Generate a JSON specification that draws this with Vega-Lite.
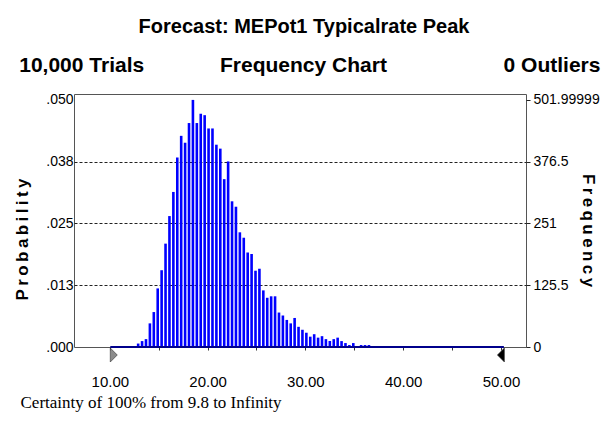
{
  "$schema": "https://vega.github.io/schema/vega-lite/v6.json",
  "width": 452,
  "height": 253,
  "autosize": {"type": "none"},
  "padding": {"left": 74, "top": 94, "right": 82, "bottom": 76},
  "background": "white",
  "title": {
    "text": "Forecast: MEPot1 Typicalrate Peak",
    "subtitle": "\u200d\u00a0\u00a010,000 Trials\u00a0\u00a0\u00a0\u00a0\u00a0\u00a0\u00a0\u00a0\u00a0\u00a0\u00a0\u00a0\u00a0Frequency Chart\u00a0\u00a0\u00a0\u00a0\u00a0\u00a0\u00a0\u00a0\u00a0\u00a0\u00a0\u00a0\u00a0\u00a0\u00a0\u00a0\u00a0\u00a0\u00a0\u00a00 Outliers",
    "anchor": "middle",
    "frame": "group",
    "dx": 4,
    "offset": 17,
    "font": "Liberation Sans",
    "fontSize": 20,
    "fontWeight": "bold",
    "color": "black",
    "subtitleFont": "Liberation Sans",
    "subtitleFontSize": 21,
    "subtitleFontWeight": "bold",
    "subtitleColor": "black",
    "subtitlePadding": 18
  },
  "config": {
    "view": {"stroke": "#555555", "strokeWidth": 1},
    "axis": {"labelFont": "Liberation Sans", "labelColor": "black", "titleColor": "black"}
  },
  "layer": [
    {
      "data": {
        "values": [
          {"value": 12.9, "count": 7}, {"value": 13.3, "count": 12}, {"value": 13.7, "count": 16},
          {"value": 14.1, "count": 48}, {"value": 14.5, "count": 71}, {"value": 14.9, "count": 119},
          {"value": 15.3, "count": 156}, {"value": 15.7, "count": 210}, {"value": 16.1, "count": 266},
          {"value": 16.5, "count": 315}, {"value": 16.9, "count": 385}, {"value": 17.3, "count": 429},
          {"value": 17.7, "count": 415}, {"value": 18.1, "count": 455}, {"value": 18.5, "count": 502},
          {"value": 18.9, "count": 455}, {"value": 19.3, "count": 474}, {"value": 19.7, "count": 471},
          {"value": 20.1, "count": 444}, {"value": 20.5, "count": 444}, {"value": 20.9, "count": 411},
          {"value": 21.3, "count": 403}, {"value": 21.7, "count": 341}, {"value": 22.1, "count": 377},
          {"value": 22.5, "count": 296}, {"value": 22.9, "count": 285}, {"value": 23.3, "count": 233},
          {"value": 23.7, "count": 222}, {"value": 24.1, "count": 192}, {"value": 24.5, "count": 189},
          {"value": 24.9, "count": 155}, {"value": 25.3, "count": 159}, {"value": 25.7, "count": 115},
          {"value": 26.1, "count": 100}, {"value": 26.5, "count": 103}, {"value": 26.9, "count": 103},
          {"value": 27.3, "count": 70}, {"value": 27.7, "count": 64}, {"value": 28.1, "count": 55},
          {"value": 28.5, "count": 48}, {"value": 28.9, "count": 59}, {"value": 29.3, "count": 41},
          {"value": 29.7, "count": 35}, {"value": 30.1, "count": 29}, {"value": 30.5, "count": 21},
          {"value": 30.9, "count": 26}, {"value": 31.3, "count": 19}, {"value": 31.7, "count": 22},
          {"value": 32.1, "count": 16}, {"value": 32.5, "count": 12}, {"value": 32.9, "count": 16},
          {"value": 33.3, "count": 19}, {"value": 33.7, "count": 12}, {"value": 34.1, "count": 8},
          {"value": 34.5, "count": 4}, {"value": 34.9, "count": 8}, {"value": 35.3, "count": 0},
          {"value": 35.7, "count": 4}, {"value": 36.1, "count": 4}, {"value": 36.5, "count": 4}
        ]
      },
      "mark": {"type": "bar", "width": 2.6, "color": "#0000ff"},
      "encoding": {
        "x": {
          "field": "value",
          "type": "quantitative",
          "scale": {"domain": [6.85, 52.05], "nice": false, "zero": false},
          "axis": {
            "values": [10, 15, 20, 25, 30, 35, 40, 45, 50],
            "labelExpr": "datum.value % 10 === 0 ? format(datum.value, '.2f') : ''",
            "tickSize": 3,
            "tickColor": "#333333",
            "labelPadding": 24,
            "labelFontSize": 15,
            "labelFlush": false,
            "labelOverlap": false,
            "domain": false,
            "grid": false,
            "title": "Certainty of 100% from 9.8 to Infinity",
            "titleFont": "Liberation Serif",
            "titleFontSize": 17,
            "titleFontWeight": "normal",
            "titleX": -54,
            "titleY": 55,
            "titleAlign": "left",
            "titleAnchor": "start",
            "titleBaseline": "middle"
          }
        },
        "y": {
          "field": "count",
          "type": "quantitative",
          "scale": {"domain": [0, 514], "nice": false},
          "axis": {
            "orient": "left",
            "values": [0, 125.5, 251, 376.5, 502],
            "labelExpr": "replace(format(datum.value / 10000, '.3f'), '0.', '.')",
            "ticks": false,
            "domain": false,
            "labelPadding": 1,
            "labelFontSize": 14,
            "labelBaseline": "middle",
            "grid": true,
            "gridDash": [3, 2],
            "gridColor": "#222222",
            "gridWidth": 1,
            "gridOpacity": {"condition": {"test": "datum.value == 0 || datum.value == 502", "value": 0}, "value": 1},
            "title": "P\u2009r\u2009o\u2009b\u2009a\u2009b\u2009i\u2009l\u2009i\u2009t\u2009y",
            "titleFont": "Liberation Sans",
            "titleFontSize": 17,
            "titleFontWeight": "bold",
            "titleAngle": -90,
            "titleX": -52,
            "titleY": 145,
            "titleAlign": "center",
            "titleBaseline": "middle"
          }
        }
      }
    },
    {
      "data": {"values": [{"start": 10.05, "end": 50.3}]},
      "mark": {"type": "rule", "color": "#00008b", "strokeWidth": 2},
      "encoding": {
        "x": {"field": "start", "type": "quantitative", "scale": {"domain": [6.85, 52.05], "nice": false, "zero": false}},
        "x2": {"field": "end"},
        "y": {
          "datum": 0,
          "type": "quantitative",
          "scale": {"domain": [0, 514], "nice": false},
          "axis": {
            "orient": "right",
            "values": [0, 125.5, 251, 376.5, 502],
            "labelExpr": "datum.value == 502 ? '501.99999' : toString(datum.value)",
            "ticks": true,
            "tickSize": 4,
            "tickColor": "#222222",
            "domain": false,
            "grid": false,
            "labelPadding": 3,
            "labelFontSize": 14,
            "labelBaseline": "middle",
            "title": "F\u2009r\u2009e\u2009q\u2009u\u2009e\u2009n\u2009c\u2009y",
            "titleFont": "Liberation Sans",
            "titleFontSize": 17,
            "titleFontWeight": "bold",
            "titleAngle": 90,
            "titleX": 61,
            "titleY": 136,
            "titleAlign": "center",
            "titleBaseline": "middle"
          }
        }
      }
    },
    {
      "data": {"values": [{"pos": 10.05, "side": "left"}, {"pos": 50.35, "side": "right"}]},
      "mark": {"type": "point", "filled": true, "size": 196, "yOffset": 8, "stroke": "#333333", "strokeWidth": 0.6, "opacity": 1},
      "encoding": {
        "x": {"field": "pos", "type": "quantitative", "scale": {"domain": [6.85, 52.05], "nice": false, "zero": false}},
        "y": {"datum": 0, "type": "quantitative", "scale": {"domain": [0, 514], "nice": false}, "axis": null},
        "shape": {"field": "side", "type": "nominal", "scale": {"domain": ["left", "right"], "range": ["M0,-1L1,0L0,1Z", "M0,-1L-1,0L0,1Z"]}, "legend": null},
        "fill": {"field": "side", "type": "nominal", "scale": {"domain": ["left", "right"], "range": ["#8c8c8c", "#000000"]}, "legend": null}
      }
    }
  ],
  "resolve": {"axis": {"y": "independent"}}
}
